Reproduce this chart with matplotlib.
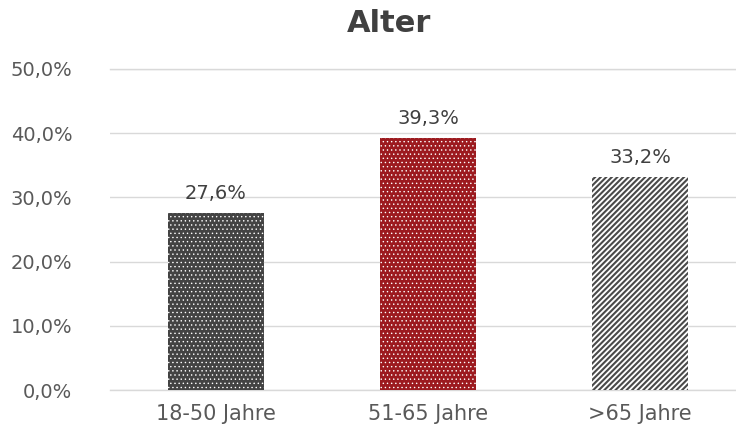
import matplotlib
matplotlib.use("Agg")
import matplotlib.pyplot as plt

# Daten
kategorien = ["18-50 Jahre", "51-65 Jahre", ">65 Jahre"]
anteile = [0.276, 0.393, 0.332]
beschriftung = ["27,6%", "39,3%", "33,2%"]
yticks = [0.0, 0.1, 0.2, 0.3, 0.4, 0.5]
ytick_labels = ["0,0%", "10,0%", "20,0%", "30,0%", "40,0%", "50,0%"]

plt.rcParams['font.family'] = ['DejaVu Sans']

fig = plt.figure(figsize=(7.36, 4.33), dpi=100)
ax = fig.add_axes([110/736, 1-390/433, 1-110/736, (390-69)/433])

# Balken mit Mustern
stile = [
    dict(color="#434343", edgecolor="white", hatch="....", hlw=0.5),
    dict(color="#9c1a1f", edgecolor="white", hatch="....", hlw=0.5),
    dict(color="white", edgecolor="#4a4a4a", hatch="//////", hlw=1.5),
]
for i in range(len(kategorien)):
    s = stile[i]
    with plt.rc_context({'hatch.linewidth': s["hlw"]}):
        ax.bar(i, anteile[i], width=0.45, color=s["color"], edgecolor=s["edgecolor"],
               hatch=s["hatch"], linewidth=0, zorder=2)
    ax.annotate(beschriftung[i], (i, anteile[i]), xytext=(0, 7), textcoords="offset points",
                ha="center", va="bottom", fontsize=14, color="#404040")

ax.set_xlim(-0.5, 2 + 96/212)
ax.set_ylim(0, 0.5)
ax.set_yticks(yticks)
ax.set_yticklabels(ytick_labels, fontsize=14, color="#595959")
ax.set_xticks(range(len(kategorien)))
ax.set_xticklabels(kategorien, fontsize=15, color="#595959")
ax.tick_params(axis="y", length=0, pad=27)
ax.tick_params(axis="x", length=0, pad=10)
ax.grid(axis="y", color="#d9d9d9", linewidth=1.0, zorder=0)
ax.axhline(0, color="#d9d9d9", linewidth=1.0, zorder=1, clip_on=False)
ax.axhline(0.5, color="#d9d9d9", linewidth=1.0, zorder=1, clip_on=False)
for sp in ax.spines.values():
    sp.set_visible(False)
ax.set_axisbelow(True)

fig.text(389/736, 1-24/433, "Alter", ha="center", va="center", fontsize=22,
         fontweight="bold", color="#404040")

fig.savefig("out.png", dpi=100)
